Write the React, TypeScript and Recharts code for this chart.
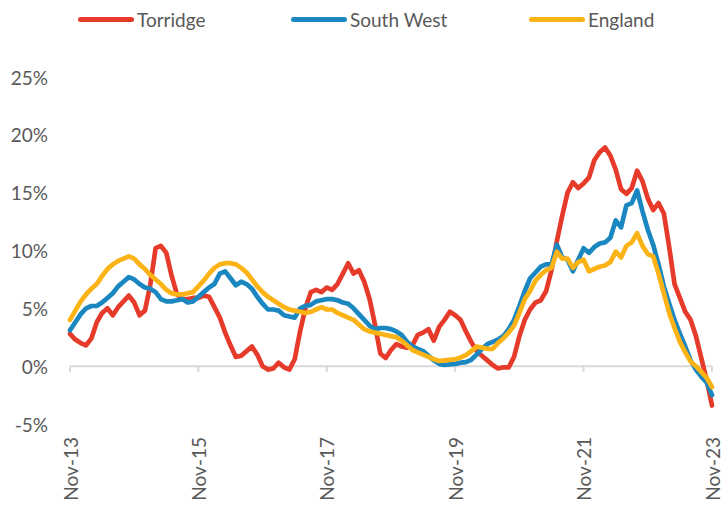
import React from 'react';
import { LineChart, Line, XAxis, YAxis, ReferenceLine } from 'recharts';

const seriesNames = ['Torridge', 'South West', 'England'];

const torridge = [
  2.8, 2.3, 2.0, 1.8, 2.4, 3.8, 4.6, 5.0, 4.4, 5.1, 5.6, 6.1, 5.5, 4.4, 4.8, 7.0, 10.2, 10.4, 9.8, 7.8, 6.2, 5.8, 5.8, 5.9, 5.9,
  6.1, 6.0, 5.1, 4.2, 2.9, 1.8, 0.8, 0.9, 1.3, 1.7, 1.0, 0.0, -0.3, -0.2, 0.3, -0.1, -0.3, 0.6, 3.0, 5.0, 6.4, 6.6, 6.4, 6.8,
  6.6, 7.1, 8.0, 8.9, 8.0, 8.3, 7.3, 5.8, 3.6, 1.1, 0.7, 1.4, 1.9, 1.7, 1.6, 1.8, 2.7, 2.9, 3.2, 2.2, 3.4, 4.0, 4.7, 4.4,
  4.0, 3.0, 2.1, 1.3, 0.9, 0.5, 0.1, -0.2, -0.1, -0.1, 0.8, 2.6, 4.0, 4.9, 5.5, 5.7, 6.5, 8.3, 10.8, 13.0, 15.0, 15.9, 15.4, 15.8,
  16.3, 17.8, 18.5, 18.9, 18.2, 17.0, 15.3, 14.9, 15.4, 16.9, 16.0, 14.5, 13.5, 14.1, 13.2, 10.3, 7.1, 5.9, 4.7, 4.0, 2.6, 0.7, -1.2, -3.4,
];

const southWest = [
  3.1, 3.8, 4.5, 5.0, 5.2, 5.2, 5.5, 5.9, 6.3, 6.9, 7.3, 7.7, 7.5, 7.1, 6.8, 6.7, 6.4, 5.8, 5.6, 5.6, 5.7, 5.8, 5.5, 5.6, 6.0,
  6.4, 6.8, 7.1, 8.0, 8.2, 7.6, 7.0, 7.3, 7.1, 6.7, 6.0, 5.4, 4.9, 4.9, 4.8, 4.4, 4.3, 4.2, 5.0, 5.2, 5.3, 5.6, 5.7, 5.8,
  5.8, 5.7, 5.5, 5.4, 5.0, 4.5, 4.0, 3.5, 3.2, 3.3, 3.3, 3.2, 3.0, 2.7, 2.1, 1.7, 1.5, 1.3, 0.9, 0.5, 0.2, 0.1, 0.15, 0.2,
  0.3, 0.35, 0.55, 1.0, 1.5, 1.9, 2.1, 2.3, 2.6, 3.2, 4.0, 5.2, 6.5, 7.6, 8.1, 8.6, 8.8, 8.8, 10.5, 9.4, 9.2, 8.2, 9.2, 10.2,
  9.8, 10.3, 10.6, 10.7, 11.1, 12.6, 12.0, 13.9, 14.1, 15.2, 13.4, 11.8, 10.5, 8.8, 6.9, 5.4, 4.0, 2.8, 1.7, 0.5, -0.3, -0.9, -1.4, -2.5,
];

const england = [
  4.0, 4.8, 5.6, 6.2, 6.7, 7.1, 7.8, 8.4, 8.8, 9.1, 9.3, 9.5, 9.3, 8.8, 8.4, 7.9, 7.5, 7.1, 6.6, 6.3, 6.2, 6.2, 6.3, 6.4, 6.9,
  7.4, 8.0, 8.5, 8.8, 8.9, 8.9, 8.8, 8.5, 8.1, 7.5, 6.9, 6.4, 6.0, 5.7, 5.4, 5.1, 4.9, 4.8, 4.7, 4.6, 4.7, 4.9, 5.1, 4.9,
  4.9, 4.6, 4.4, 4.2, 4.0, 3.6, 3.2, 3.0, 2.9, 2.8, 2.7, 2.6, 2.5, 2.2, 1.8, 1.4, 1.2, 1.0, 0.8, 0.6, 0.45, 0.5, 0.55, 0.6,
  0.75, 0.95, 1.3, 1.7, 1.6, 1.5, 1.5, 2.0, 2.4, 2.9, 3.5, 4.6, 5.8, 6.5, 7.4, 7.9, 8.3, 8.5, 9.9, 9.3, 9.3, 8.5, 9.0, 9.2,
  8.2, 8.4, 8.6, 8.7, 9.0, 9.9, 9.4, 10.4, 10.7, 11.5, 10.4, 9.7, 9.5, 8.0, 6.3, 4.6, 3.3, 2.1, 1.2, 0.4, 0.0, -0.5, -1.0, -1.8,
];

const monthNames = ['Jan', 'Feb', 'Mar', 'Apr', 'May', 'Jun', 'Jul', 'Aug', 'Sep', 'Oct', 'Nov', 'Dec'];
const categories = torridge.map((_, i) => {
  const m = (10 + i) % 12;
  const y = 13 + Math.floor((10 + i) / 12);
  return `${monthNames[m]}-${y}`;
});

const xTickLabels = ['Nov-13', 'Nov-15', 'Nov-17', 'Nov-19', 'Nov-21', 'Nov-23'];
const yTicks = [-5, 0, 5, 10, 15, 20, 25];

const data = categories.map((month, i) => ({
  month,
  torridge: torridge[i],
  southWest: southWest[i],
  england: england[i],
}));

const RED = '#E63B2A';
const BLUE = '#1A87C1';
const YELLOW = '#FBB315';
const TEXT = '#595959';
const FONT = 'Lato, "Open Sans", sans-serif';

const XTick = (props: any) => {
  const { x, y, payload } = props;
  return (
    <text
      x={x}
      y={y}
      transform={`rotate(-90 ${x} ${y})`}
      textAnchor="end"
      dominantBaseline="central"
      fill={TEXT}
      fontSize={19}
      fontFamily={FONT}
    >
      {payload.value}
    </text>
  );
};

const YTick = (props: any) => {
  const { x, y, payload } = props;
  return (
    <text x={x} y={y} textAnchor="end" dominantBaseline="central" fill={TEXT} fontSize={19} fontFamily={FONT}>
      {`${payload.value}%`}
    </text>
  );
};

const legendItems = [
  { name: seriesNames[0], color: RED, left: 78 },
  { name: seriesNames[1], color: BLUE, left: 291 },
  { name: seriesNames[2], color: YELLOW, left: 529 },
];

export default function App() {
  return (
    <div style={{ position: 'absolute', left: 0, top: 0, width: 725, height: 511, background: '#fff' }}>
      <LineChart width={725} height={511} data={data} margin={{ top: 77, right: 13, bottom: 0, left: 0 }}>
        <XAxis
          dataKey="month"
          ticks={xTickLabels}
          interval={0}
          tick={<XTick />}
          axisLine={false}
          tickLine={false}
          height={87}
          tickMargin={7}
        />
        <YAxis
          domain={[-5, 25]}
          ticks={yTicks}
          axisLine={false}
          tickLine={false}
          width={70}
          tickMargin={16}
          tick={<YTick />}
        />
        <ReferenceLine y={0} stroke="#D9D9D9" strokeWidth={2} />
        {xTickLabels.map((lab) => (
          <ReferenceLine
            key={lab}
            segment={[{ x: lab, y: 0 }, { x: lab, y: -0.5 }]}
            stroke="#D9D9D9"
            strokeWidth={2}
          />
        ))}
        <Line type="linear" dataKey="torridge" name={seriesNames[0]} stroke={RED} strokeWidth={4.7} dot={false} isAnimationActive={false} strokeLinejoin="round" strokeLinecap="round" />
        <Line type="linear" dataKey="southWest" name={seriesNames[1]} stroke={BLUE} strokeWidth={4.7} dot={false} isAnimationActive={false} strokeLinejoin="round" strokeLinecap="round" />
        <Line type="linear" dataKey="england" name={seriesNames[2]} stroke={YELLOW} strokeWidth={4.7} dot={false} isAnimationActive={false} strokeLinejoin="round" strokeLinecap="round" />
      </LineChart>
      {legendItems.map((it) => (
        <div key={it.name} style={{ position: 'absolute', top: 8, left: it.left, height: 22, display: 'flex', alignItems: 'center', fontFamily: FONT, fontSize: 19, color: TEXT, whiteSpace: 'nowrap' }}>
          <div style={{ width: 56, height: 5, borderRadius: 3, background: it.color, marginRight: 3 }} />
          <span>{it.name}</span>
        </div>
      ))}
    </div>
  );
}
